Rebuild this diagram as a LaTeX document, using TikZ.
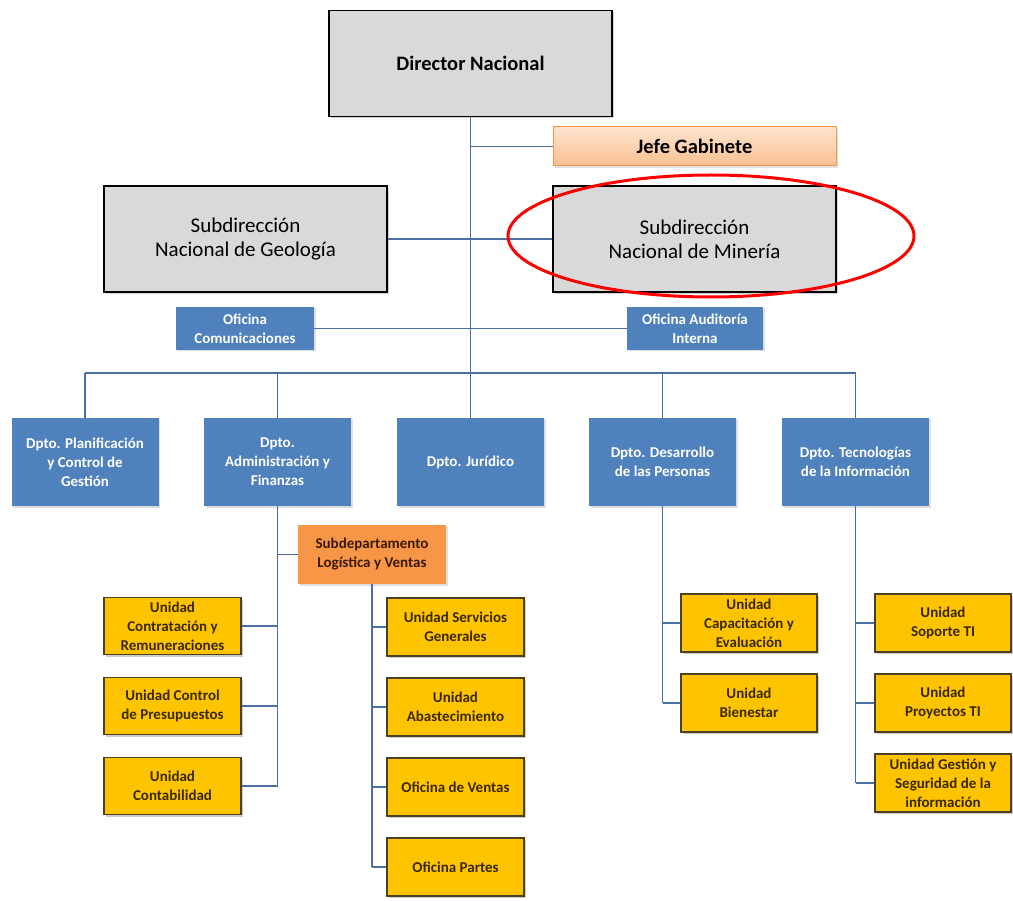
\documentclass[tikz,border=0pt]{standalone}
\usepackage{fontspec}
\setmainfont{Carlito}
\usetikzlibrary{shadows}
\definecolor{grayfill}{HTML}{D9D9D9}
\definecolor{bluefill}{HTML}{4F81BD}
\definecolor{orangefill}{HTML}{F79646}
\definecolor{peachtop}{HTML}{FDE4CF}
\definecolor{peachbot}{HTML}{FABF8F}
\definecolor{goldfill}{HTML}{FFC400}
\definecolor{goldedge}{HTML}{4D4020}
\definecolor{goldtext}{HTML}{3A2800}
\definecolor{linecol}{HTML}{4A6FA5}
\definecolor{subtext}{HTML}{3A1A05}
\tikzset{
  box/.style={anchor=center, inner sep=0pt, align=center, font=\bfseries\fontsize{15}{19}\selectfont},
  graybox/.style={box, draw=black, line width=1.3pt, fill=grayfill, minimum width=283pt, minimum height=106pt,
     drop shadow={shadow xshift=2pt, shadow yshift=-2pt, fill=black!35}, font=\fontsize{21}{24}\selectfont},
  bluebox/.style={box, fill=bluefill, text=white, drop shadow={shadow xshift=1.5pt, shadow yshift=-1.5pt, fill=black!25}},
  deptbox/.style={bluebox, minimum width=147pt, minimum height=88pt},
  yellowbox/.style={box, draw=goldedge, line width=1.2pt, fill=goldfill, text=goldtext, minimum width=137pt, minimum height=57pt,
     drop shadow={shadow xshift=2pt, shadow yshift=-2pt, fill=black!40}},
  conn/.style={draw=linecol, line width=1.1pt},
}
\begin{document}
\begin{tikzpicture}[x=1pt,y=-1pt]
\useasboundingbox (0,0) rectangle (1013,901);
% top level
\node[graybox, font=\bfseries\fontsize{20.5}{24}\selectfont] (dir) at (470.5,63.5) {Director Nacional};
\node[box, draw=orangefill, line width=1pt, top color=peachtop, bottom color=peachbot, minimum width=283pt, minimum height=39pt,
  font=\bfseries\fontsize{20.5}{24}\selectfont, drop shadow={shadow xshift=2pt, shadow yshift=-2pt, fill=black!25}] (jefe) at (694.5,146.5) {Jefe Gabinete};
\node[graybox] (geo) at (245.5,239) {Subdirección\\Nacional de Geología};
\node[graybox] (min) at (694.5,239) {Subdirección\\Nacional de Minería};
\node[bluebox, minimum width=138pt, minimum height=43pt] (com) at (245,328.5) {Oficina\\Comunicaciones};
\node[bluebox, minimum width=136pt, minimum height=43pt] (aud) at (695,328.5) {Oficina Auditoría\\Interna};
% bus
\coordinate (busL) at (85,373);
\coordinate (busM) at (470.5,373);
\coordinate (busR) at (855.5,373);
% departments
\node[deptbox] (plan) at (85,462) {Dpto. Planificación\\y Control de\\Gestión};
\node[deptbox] (adm) at (277.5,462) {Dpto.\\Administración y\\Finanzas};
\node[deptbox] (jur) at (470.5,462) {Dpto. Jurídico};
\node[deptbox] (des) at (662.5,462) {Dpto. Desarrollo\\de las Personas};
\node[deptbox] (tec) at (855.5,462) {Dpto. Tecnologías\\de la Información};
% subdepartment
\node[box, fill=orangefill, text=subtext, minimum width=148pt, minimum height=59pt,
  drop shadow={shadow xshift=1.5pt, shadow yshift=-1.5pt, fill=black!25}] (sub) at (372,554.5) {Subdepartamento\\Logística y Ventas};
% admin units
\node[yellowbox] (ucr) at (172.5,626) {Unidad\\Contratación y\\Remuneraciones};
\node[yellowbox] (ucp) at (172.5,706) {Unidad Control\\de Presupuestos};
\node[yellowbox] (uco) at (172.5,786) {Unidad\\Contabilidad};
% logistics units
\node[yellowbox, minimum height=58pt] (usg) at (455.5,627) {Unidad Servicios\\Generales};
\node[yellowbox, minimum height=58pt] (uab) at (455.5,707) {Unidad\\Abastecimiento};
\node[yellowbox, minimum height=58pt] (ove) at (455.5,787) {Oficina de Ventas};
\node[yellowbox, minimum height=58pt] (opa) at (455.5,867) {Oficina Partes};
% people units
\node[yellowbox, minimum width=136pt, minimum height=58pt] (ucap) at (749,623) {Unidad\\Capacitación y\\Evaluación};
\node[yellowbox, minimum width=136pt, minimum height=58pt] (ubi) at (749,703) {Unidad\\Bienestar};
% IT units
\node[yellowbox, minimum width=136pt, minimum height=58pt] (ust) at (943,623) {Unidad\\Soporte TI};
\node[yellowbox, minimum width=136pt, minimum height=58pt] (upt) at (943,703) {Unidad\\Proyectos TI};
\node[yellowbox, minimum width=136pt, minimum height=58pt] (ugs) at (943,783) {Unidad Gestión y\\Seguridad de la\\información};
% connectors
\draw[conn] (dir.south) -- (busM);
\draw[conn] (dir.south |- jefe.west) -- (jefe.west);
\draw[conn] (geo.east) -- (min.west);
\draw[conn] (com.east) -- (aud.west);
\draw[conn] (busL) -- (busR);
\foreach \d in {plan,adm,jur,des,tec}{\draw[conn] (\d.north |- busL) -- (\d.north);}
\draw[conn] (adm.south) -- (adm.south |- uco.east);
\draw[conn] (adm.south |- sub.west) -- (sub.west);
\foreach \u in {ucr,ucp,uco}{\draw[conn] (\u.east) -- (adm.south |- \u.east);}
\draw[conn] (sub.south) -- (sub.south |- opa.west);
\foreach \u in {usg,uab,ove,opa}{\draw[conn] (sub.south |- \u.west) -- (\u.west);}
\draw[conn] (des.south) -- (des.south |- ubi.west);
\foreach \u in {ucap,ubi}{\draw[conn] (des.south |- \u.west) -- (\u.west);}
\draw[conn] (tec.south) -- (tec.south |- ugs.west);
\foreach \u in {ust,upt,ugs}{\draw[conn] (tec.south |- \u.west) -- (\u.west);}
% highlight ellipse
\draw[red, line width=3pt] (711,236) ellipse [x radius=203, y radius=61];
\end{tikzpicture}
\end{document}
